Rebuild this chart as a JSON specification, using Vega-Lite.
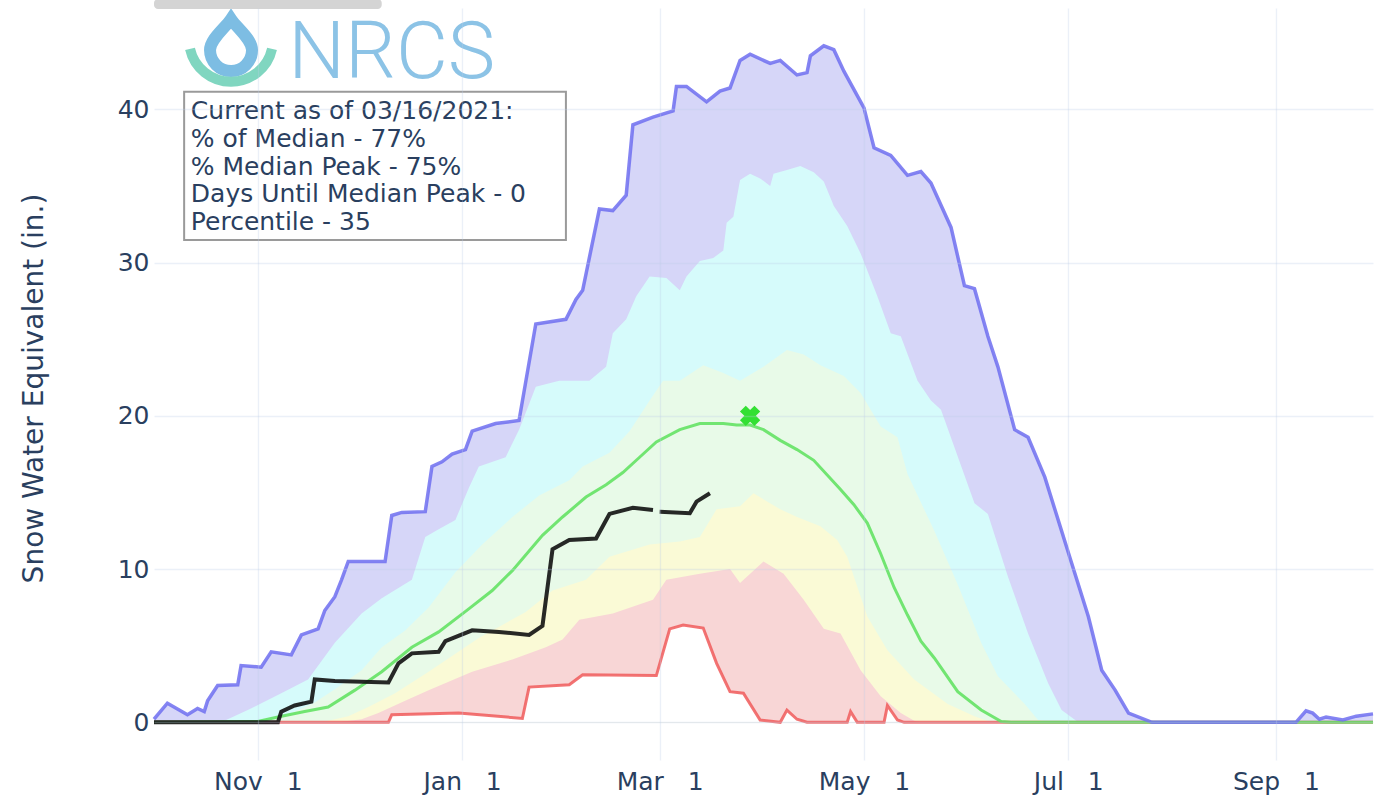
{
  "$schema": "https://vega.github.io/schema/vega-lite/v6.json",
  "width": 1219,
  "height": 752,
  "autosize": {"type": "none"},
  "padding": {"left": 154, "top": 8, "right": 1, "bottom": 40},
  "background": "white",
  "config": {
    "view": {"stroke": null},
    "axis": {
      "labelFont": "DejaVu Sans",
      "labelFontSize": 25,
      "labelColor": "#2a3f5f",
      "titleFont": "DejaVu Sans",
      "titleFontSize": 28,
      "titleFontWeight": "normal",
      "titleColor": "#2a3f5f",
      "gridColor": "#bccde8",
      "gridOpacity": 0.3,
      "gridWidth": 1.3,
      "domain": false,
      "ticks": false
    }
  },
  "datasets": {
    "max": [
      {"date": "2020-10-01", "v": 0.2}, {"date": "2020-10-05", "v": 1.25}, {"date": "2020-10-11", "v": 0.5},
      {"date": "2020-10-14", "v": 0.9}, {"date": "2020-10-16", "v": 0.7}, {"date": "2020-10-17", "v": 1.4},
      {"date": "2020-10-20", "v": 2.4}, {"date": "2020-10-26", "v": 2.45}, {"date": "2020-10-27", "v": 3.7},
      {"date": "2020-11-02", "v": 3.6}, {"date": "2020-11-05", "v": 4.6}, {"date": "2020-11-11", "v": 4.4},
      {"date": "2020-11-14", "v": 5.7}, {"date": "2020-11-19", "v": 6.1}, {"date": "2020-11-21", "v": 7.3},
      {"date": "2020-11-24", "v": 8.2}, {"date": "2020-11-26", "v": 9.3}, {"date": "2020-11-28", "v": 10.5},
      {"date": "2020-12-09", "v": 10.5}, {"date": "2020-12-11", "v": 13.5}, {"date": "2020-12-14", "v": 13.7},
      {"date": "2020-12-21", "v": 13.75}, {"date": "2020-12-23", "v": 16.7}, {"date": "2020-12-26", "v": 17.0},
      {"date": "2020-12-29", "v": 17.5}, {"date": "2021-01-02", "v": 17.8}, {"date": "2021-01-04", "v": 19.0},
      {"date": "2021-01-11", "v": 19.5}, {"date": "2021-01-18", "v": 19.7}, {"date": "2021-01-23", "v": 26.0},
      {"date": "2021-02-01", "v": 26.3}, {"date": "2021-02-04", "v": 27.6}, {"date": "2021-02-06", "v": 28.2},
      {"date": "2021-02-11", "v": 33.5}, {"date": "2021-02-15", "v": 33.4}, {"date": "2021-02-19", "v": 34.4},
      {"date": "2021-02-21", "v": 39.0}, {"date": "2021-02-27", "v": 39.5}, {"date": "2021-03-05", "v": 39.9},
      {"date": "2021-03-06", "v": 41.5}, {"date": "2021-03-09", "v": 41.5}, {"date": "2021-03-15", "v": 40.5},
      {"date": "2021-03-19", "v": 41.2}, {"date": "2021-03-22", "v": 41.4}, {"date": "2021-03-25", "v": 43.2},
      {"date": "2021-03-28", "v": 43.6}, {"date": "2021-04-03", "v": 43.0}, {"date": "2021-04-06", "v": 43.2},
      {"date": "2021-04-11", "v": 42.25}, {"date": "2021-04-14", "v": 42.4}, {"date": "2021-04-15", "v": 43.5},
      {"date": "2021-04-19", "v": 44.15}, {"date": "2021-04-22", "v": 43.9}, {"date": "2021-04-25", "v": 42.5},
      {"date": "2021-05-01", "v": 40.1}, {"date": "2021-05-04", "v": 37.5}, {"date": "2021-05-09", "v": 37.0},
      {"date": "2021-05-14", "v": 35.7}, {"date": "2021-05-18", "v": 35.95}, {"date": "2021-05-21", "v": 35.2},
      {"date": "2021-05-27", "v": 32.3}, {"date": "2021-05-31", "v": 28.5}, {"date": "2021-06-03", "v": 28.3},
      {"date": "2021-06-07", "v": 25.2}, {"date": "2021-06-10", "v": 23.2}, {"date": "2021-06-15", "v": 19.1},
      {"date": "2021-06-19", "v": 18.6}, {"date": "2021-06-24", "v": 16.0}, {"date": "2021-07-02", "v": 10.4},
      {"date": "2021-07-07", "v": 6.9}, {"date": "2021-07-11", "v": 3.4}, {"date": "2021-07-15", "v": 2.1},
      {"date": "2021-07-19", "v": 0.6}, {"date": "2021-07-26", "v": 0.0}, {"date": "2021-09-07", "v": 0.0},
      {"date": "2021-09-10", "v": 0.75}, {"date": "2021-09-12", "v": 0.6}, {"date": "2021-09-14", "v": 0.2},
      {"date": "2021-09-16", "v": 0.35}, {"date": "2021-09-21", "v": 0.15}, {"date": "2021-09-25", "v": 0.4},
      {"date": "2021-09-30", "v": 0.55}
    ],
    "p90": [
      {"date": "2020-10-01", "v": 0}, {"date": "2020-10-21", "v": 0}, {"date": "2020-10-24", "v": 0.3},
      {"date": "2020-10-29", "v": 0.8}, {"date": "2020-11-08", "v": 1.9}, {"date": "2020-11-16", "v": 2.8},
      {"date": "2020-11-24", "v": 5.2}, {"date": "2020-12-02", "v": 7.1}, {"date": "2020-12-08", "v": 8.1},
      {"date": "2020-12-17", "v": 9.3}, {"date": "2020-12-21", "v": 12.1}, {"date": "2020-12-25", "v": 12.6},
      {"date": "2020-12-30", "v": 13.2}, {"date": "2021-01-03", "v": 15.3}, {"date": "2021-01-06", "v": 16.7},
      {"date": "2021-01-14", "v": 17.3}, {"date": "2021-01-18", "v": 19.1}, {"date": "2021-01-20", "v": 20.2},
      {"date": "2021-01-23", "v": 21.9}, {"date": "2021-01-30", "v": 22.3}, {"date": "2021-02-08", "v": 22.3},
      {"date": "2021-02-13", "v": 23.2}, {"date": "2021-02-15", "v": 25.4}, {"date": "2021-02-19", "v": 26.3},
      {"date": "2021-02-22", "v": 27.8}, {"date": "2021-02-26", "v": 29.1}, {"date": "2021-03-03", "v": 29.0},
      {"date": "2021-03-07", "v": 28.2}, {"date": "2021-03-09", "v": 29.1}, {"date": "2021-03-13", "v": 30.1},
      {"date": "2021-03-17", "v": 30.3}, {"date": "2021-03-20", "v": 30.8}, {"date": "2021-03-21", "v": 32.6},
      {"date": "2021-03-23", "v": 33.0}, {"date": "2021-03-25", "v": 35.4}, {"date": "2021-03-28", "v": 35.8},
      {"date": "2021-03-31", "v": 35.5}, {"date": "2021-04-03", "v": 35.0}, {"date": "2021-04-04", "v": 35.8},
      {"date": "2021-04-08", "v": 36.05}, {"date": "2021-04-12", "v": 36.3}, {"date": "2021-04-16", "v": 35.9},
      {"date": "2021-04-19", "v": 35.3}, {"date": "2021-04-22", "v": 33.7}, {"date": "2021-04-26", "v": 32.4},
      {"date": "2021-04-30", "v": 30.6}, {"date": "2021-05-05", "v": 27.8}, {"date": "2021-05-09", "v": 25.4},
      {"date": "2021-05-12", "v": 25.2}, {"date": "2021-05-17", "v": 22.3}, {"date": "2021-05-21", "v": 21.0},
      {"date": "2021-05-24", "v": 20.4}, {"date": "2021-06-03", "v": 14.3}, {"date": "2021-06-07", "v": 13.6},
      {"date": "2021-06-13", "v": 9.5}, {"date": "2021-06-19", "v": 5.8}, {"date": "2021-06-25", "v": 2.55},
      {"date": "2021-06-29", "v": 0.8}, {"date": "2021-07-04", "v": 0}, {"date": "2021-09-30", "v": 0}
    ],
    "p70": [
      {"date": "2020-10-01", "v": 0}, {"date": "2020-11-03", "v": 0}, {"date": "2020-11-10", "v": 0.5},
      {"date": "2020-11-18", "v": 1.3}, {"date": "2020-11-25", "v": 2.3}, {"date": "2020-12-02", "v": 3.4},
      {"date": "2020-12-08", "v": 4.9}, {"date": "2020-12-15", "v": 6.0}, {"date": "2020-12-22", "v": 7.5},
      {"date": "2020-12-30", "v": 9.8}, {"date": "2021-01-07", "v": 11.6}, {"date": "2021-01-16", "v": 13.4},
      {"date": "2021-01-24", "v": 14.8}, {"date": "2021-02-02", "v": 15.8}, {"date": "2021-02-06", "v": 16.7},
      {"date": "2021-02-14", "v": 17.6}, {"date": "2021-02-20", "v": 19.0}, {"date": "2021-02-26", "v": 21.0},
      {"date": "2021-03-02", "v": 22.3}, {"date": "2021-03-07", "v": 22.3}, {"date": "2021-03-14", "v": 23.3},
      {"date": "2021-03-20", "v": 22.8}, {"date": "2021-03-25", "v": 22.3}, {"date": "2021-04-01", "v": 23.2},
      {"date": "2021-04-08", "v": 24.3}, {"date": "2021-04-13", "v": 24.0}, {"date": "2021-04-18", "v": 23.3},
      {"date": "2021-04-25", "v": 22.6}, {"date": "2021-04-30", "v": 21.5}, {"date": "2021-05-06", "v": 19.3},
      {"date": "2021-05-11", "v": 18.6}, {"date": "2021-05-14", "v": 16.2}, {"date": "2021-05-22", "v": 12.5},
      {"date": "2021-05-29", "v": 9.0}, {"date": "2021-06-05", "v": 5.2}, {"date": "2021-06-10", "v": 3.0},
      {"date": "2021-06-18", "v": 1.2}, {"date": "2021-06-22", "v": 0.15}, {"date": "2021-06-26", "v": 0},
      {"date": "2021-09-30", "v": 0}
    ],
    "p30": [
      {"date": "2020-10-01", "v": 0}, {"date": "2020-11-20", "v": 0}, {"date": "2020-11-28", "v": 0.4},
      {"date": "2020-12-04", "v": 1.0}, {"date": "2020-12-12", "v": 1.9}, {"date": "2020-12-22", "v": 3.3},
      {"date": "2021-01-06", "v": 5.5}, {"date": "2021-01-20", "v": 7.2}, {"date": "2021-01-28", "v": 8.6},
      {"date": "2021-02-07", "v": 9.3}, {"date": "2021-02-14", "v": 10.8}, {"date": "2021-02-26", "v": 11.6},
      {"date": "2021-03-07", "v": 11.8}, {"date": "2021-03-13", "v": 12.1}, {"date": "2021-03-18", "v": 13.9},
      {"date": "2021-03-25", "v": 14.1}, {"date": "2021-03-29", "v": 14.95}, {"date": "2021-04-06", "v": 13.9},
      {"date": "2021-04-11", "v": 13.4}, {"date": "2021-04-18", "v": 12.8}, {"date": "2021-04-23", "v": 11.9},
      {"date": "2021-04-26", "v": 10.8}, {"date": "2021-05-02", "v": 6.9}, {"date": "2021-05-08", "v": 4.7},
      {"date": "2021-05-16", "v": 2.8}, {"date": "2021-05-26", "v": 1.2}, {"date": "2021-06-03", "v": 0.4},
      {"date": "2021-06-08", "v": 0}, {"date": "2021-09-30", "v": 0}
    ],
    "p10": [
      {"date": "2020-10-01", "v": 0}, {"date": "2020-11-25", "v": 0}, {"date": "2020-12-02", "v": 0.2},
      {"date": "2020-12-07", "v": 0.6}, {"date": "2020-12-15", "v": 1.4}, {"date": "2020-12-22", "v": 2.1},
      {"date": "2021-01-04", "v": 3.3}, {"date": "2021-01-16", "v": 4.1}, {"date": "2021-01-26", "v": 4.9},
      {"date": "2021-01-31", "v": 5.4}, {"date": "2021-02-05", "v": 6.7}, {"date": "2021-02-15", "v": 7.1},
      {"date": "2021-02-27", "v": 8.0}, {"date": "2021-03-03", "v": 9.3}, {"date": "2021-03-13", "v": 9.7},
      {"date": "2021-03-22", "v": 10.0}, {"date": "2021-03-25", "v": 9.1}, {"date": "2021-04-01", "v": 10.5},
      {"date": "2021-04-07", "v": 9.7}, {"date": "2021-04-13", "v": 8.0}, {"date": "2021-04-19", "v": 6.1},
      {"date": "2021-04-24", "v": 5.8}, {"date": "2021-04-30", "v": 3.4}, {"date": "2021-05-06", "v": 1.7},
      {"date": "2021-05-12", "v": 0.6}, {"date": "2021-05-16", "v": 0.1}, {"date": "2021-05-18", "v": 0},
      {"date": "2021-09-30", "v": 0}
    ],
    "min": [
      {"date": "2020-10-01", "v": 0}, {"date": "2020-12-10", "v": 0}, {"date": "2020-12-11", "v": 0.5},
      {"date": "2020-12-31", "v": 0.6}, {"date": "2021-01-09", "v": 0.45}, {"date": "2021-01-19", "v": 0.25},
      {"date": "2021-01-21", "v": 2.3}, {"date": "2021-02-02", "v": 2.45}, {"date": "2021-02-06", "v": 3.1},
      {"date": "2021-02-28", "v": 3.05}, {"date": "2021-03-04", "v": 6.1}, {"date": "2021-03-08", "v": 6.35},
      {"date": "2021-03-14", "v": 6.15}, {"date": "2021-03-18", "v": 3.85}, {"date": "2021-03-22", "v": 2.0},
      {"date": "2021-03-26", "v": 1.9}, {"date": "2021-03-31", "v": 0.15}, {"date": "2021-04-06", "v": 0},
      {"date": "2021-04-08", "v": 0.8}, {"date": "2021-04-11", "v": 0.2}, {"date": "2021-04-14", "v": 0},
      {"date": "2021-04-26", "v": 0}, {"date": "2021-04-27", "v": 0.7}, {"date": "2021-04-29", "v": 0},
      {"date": "2021-05-07", "v": 0}, {"date": "2021-05-08", "v": 1.1}, {"date": "2021-05-11", "v": 0.15},
      {"date": "2021-05-13", "v": 0}, {"date": "2021-09-30", "v": 0}
    ],
    "median": [
      {"date": "2020-10-01", "v": 0}, {"date": "2020-11-01", "v": 0.05}, {"date": "2020-11-07", "v": 0.35},
      {"date": "2020-11-15", "v": 0.7}, {"date": "2020-11-22", "v": 1.0}, {"date": "2020-11-30", "v": 2.1},
      {"date": "2020-12-08", "v": 3.3}, {"date": "2020-12-17", "v": 4.9}, {"date": "2020-12-25", "v": 5.9},
      {"date": "2021-01-03", "v": 7.4}, {"date": "2021-01-10", "v": 8.6}, {"date": "2021-01-16", "v": 9.9},
      {"date": "2021-01-25", "v": 12.2}, {"date": "2021-01-31", "v": 13.4}, {"date": "2021-02-07", "v": 14.7},
      {"date": "2021-02-13", "v": 15.5}, {"date": "2021-02-18", "v": 16.3}, {"date": "2021-02-23", "v": 17.3},
      {"date": "2021-02-28", "v": 18.3}, {"date": "2021-03-07", "v": 19.1}, {"date": "2021-03-13", "v": 19.5},
      {"date": "2021-03-20", "v": 19.5}, {"date": "2021-03-24", "v": 19.4}, {"date": "2021-03-28", "v": 19.4},
      {"date": "2021-04-01", "v": 19.1}, {"date": "2021-04-06", "v": 18.4}, {"date": "2021-04-11", "v": 17.8},
      {"date": "2021-04-16", "v": 17.1}, {"date": "2021-04-24", "v": 15.2}, {"date": "2021-04-28", "v": 14.2},
      {"date": "2021-05-02", "v": 13.0}, {"date": "2021-05-06", "v": 11.0}, {"date": "2021-05-10", "v": 8.8},
      {"date": "2021-05-14", "v": 7.0}, {"date": "2021-05-18", "v": 5.3}, {"date": "2021-05-22", "v": 4.2},
      {"date": "2021-05-29", "v": 2.0}, {"date": "2021-06-05", "v": 0.8}, {"date": "2021-06-11", "v": 0.05},
      {"date": "2021-06-14", "v": 0}, {"date": "2021-09-30", "v": 0}
    ],
    "current": [
      {"date": "2020-10-01", "v": 0, "seg": 1}, {"date": "2020-11-07", "v": 0, "seg": 1}, {"date": "2020-11-08", "v": 0.7, "seg": 1},
      {"date": "2020-11-12", "v": 1.1, "seg": 1}, {"date": "2020-11-17", "v": 1.35, "seg": 1}, {"date": "2020-11-18", "v": 2.8, "seg": 1},
      {"date": "2020-11-24", "v": 2.7, "seg": 1}, {"date": "2020-12-10", "v": 2.6, "seg": 1}, {"date": "2020-12-13", "v": 3.85, "seg": 1},
      {"date": "2020-12-17", "v": 4.5, "seg": 1}, {"date": "2020-12-25", "v": 4.6, "seg": 1}, {"date": "2020-12-27", "v": 5.3, "seg": 1},
      {"date": "2021-01-04", "v": 6.0, "seg": 1}, {"date": "2021-01-12", "v": 5.9, "seg": 1}, {"date": "2021-01-21", "v": 5.7, "seg": 1},
      {"date": "2021-01-25", "v": 6.3, "seg": 1}, {"date": "2021-01-28", "v": 11.3, "seg": 1}, {"date": "2021-02-02", "v": 11.9, "seg": 1},
      {"date": "2021-02-10", "v": 12.0, "seg": 1}, {"date": "2021-02-14", "v": 13.6, "seg": 1}, {"date": "2021-02-21", "v": 14.0, "seg": 1},
      {"date": "2021-02-27", "v": 13.85, "seg": 1},
      {"date": "2021-03-01", "v": 13.75, "seg": 2}, {"date": "2021-03-10", "v": 13.65, "seg": 2}, {"date": "2021-03-12", "v": 14.4, "seg": 2},
      {"date": "2021-03-16", "v": 14.95, "seg": 2}
    ],
    "peak": [{"date": "2021-03-28", "v": 20.0}],
    "box": [{"date": "2020-10-10", "date2": "2021-02-01", "v": 41.15, "v2": 31.48}],
    "boxtext": [{"date": "2020-10-12", "v": 39.36, "label": "Current as of 03/16/2021:\n% of Median - 77%\n% Median Peak - 75%\nDays Until Median Peak - 0\nPercentile - 35"}],
    "logo": [{"date": "2020-12-11", "v": 42.06, "label": "NRCS"}],
    "drop": [{"date": "2020-10-24", "v": 44.2}],
    "topbar": [{"date": "2020-10-01", "date2": "2020-12-08", "v": 47.2, "v2": 46.55}]
  },
  "encoding": {
    "x": {
      "field": "date",
      "type": "temporal",
      "scale": {"domain": [{"year": 2020, "month": 10, "date": 1}, {"year": 2021, "month": 9, "date": 30}]},
      "axis": {
        "title": null,
        "values": [
          {"year": 2020, "month": 11, "date": 1}, {"year": 2021, "month": 1, "date": 1},
          {"year": 2021, "month": 3, "date": 1}, {"year": 2021, "month": 5, "date": 1},
          {"year": 2021, "month": 7, "date": 1}, {"year": 2021, "month": 9, "date": 1}
        ],
        "labelExpr": "timeFormat(datum.value, '%b') + '\u00a0\u00a0\u00a01'",
        "grid": true,
        "labelPadding": 9,
        "zindex": 1
      }
    },
    "y": {
      "field": "v",
      "type": "quantitative",
      "scale": {"domain": [-2.46, 46.62], "nice": false, "zero": false},
      "axis": {
        "title": "Snow Water Equivalent (in.)",
        "values": [0, 10, 20, 30, 40],
        "grid": true,
        "labelPadding": 5,
        "titleX": -120,
        "titleY": 380,
        "titleAlign": "center",
        "titleBaseline": "middle",
        "zindex": 1
      }
    }
  },
  "layer": [
    {"data": {"name": "max"}, "mark": {"type": "area", "color": "#d6d6f8", "opacity": 1}, "encoding": {"y2": {"datum": 0}}},
    {"data": {"name": "p90"}, "mark": {"type": "area", "color": "#d6fbfb", "opacity": 1}, "encoding": {"y2": {"datum": 0}}},
    {"data": {"name": "p70"}, "mark": {"type": "area", "color": "#e8fae8", "opacity": 1}, "encoding": {"y2": {"datum": 0}}},
    {"data": {"name": "p30"}, "mark": {"type": "area", "color": "#fafad6", "opacity": 1}, "encoding": {"y2": {"datum": 0}}},
    {"data": {"name": "p10"}, "mark": {"type": "area", "color": "#f8d6d6", "opacity": 1}, "encoding": {"y2": {"datum": 0}}},
    {"data": {"name": "min"}, "mark": {"type": "area", "color": "#ffffff", "opacity": 1}, "encoding": {"y2": {"datum": 0}}},
    {"data": {"name": "min"}, "mark": {"type": "line", "color": "#f05a5a", "strokeWidth": 3, "opacity": 0.85}, "encoding": {}},
    {"data": {"name": "median"}, "mark": {"type": "line", "color": "#5ce05c", "strokeWidth": 3, "opacity": 0.85}, "encoding": {}},
    {"data": {"name": "max"}, "mark": {"type": "line", "color": "#6e6ef0", "strokeWidth": 3.5, "opacity": 0.85}, "encoding": {}},
    {"data": {"name": "current"}, "mark": {"type": "line", "color": "#111111", "strokeWidth": 4, "opacity": 0.9}, "encoding": {"detail": {"field": "seg"}}},
    {"data": {"name": "peak"}, "mark": {"type": "point", "shape": "cross", "angle": 45, "filled": true, "color": "#33e033", "size": 420, "opacity": 1}},
    {"data": {"name": "box"}, "mark": {"type": "rect", "fill": "#ffffff", "stroke": "#9a9a9a", "strokeWidth": 2}, "encoding": {"x2": {"field": "date2"}, "y2": {"field": "v2"}}},
    {"data": {"name": "boxtext"}, "mark": {"type": "text", "align": "left", "baseline": "alphabetic", "lineBreak": "\n", "lineHeight": 27.7, "font": "DejaVu Sans", "fontSize": 25, "color": "#2a3f5f"}, "encoding": {"text": {"field": "label"}}},
    {"data": {"name": "logo"}, "mark": {"type": "text", "align": "center", "baseline": "alphabetic", "font": "Roboto", "fontWeight": 300, "fontSize": 80, "color": "#8cc3e6"}, "encoding": {"text": {"field": "label"}}},
    {"data": {"name": "drop"}, "mark": {"type": "point", "shape": "M0,-0.52 C0.12,-0.34 0.42,-0.12 0.42,0.1 A0.42,0.42 0 1 1 -0.42,0.1 C-0.42,-0.12 -0.12,-0.34 0,-0.52 Z", "filled": false, "color": "#7dbde3", "strokeWidth": 12, "size": 10000, "opacity": 1}},
    {"data": {"name": "drop"}, "mark": {"type": "point", "shape": "M0.82,0.075 A0.84,0.84 0 0 1 -0.82,0.075", "filled": false, "color": "#80d6c0", "strokeWidth": 10, "size": 10000, "opacity": 1}},
    {"data": {"name": "topbar"}, "mark": {"type": "rect", "color": "#d4d4d4", "cornerRadius": 4}, "encoding": {"x2": {"field": "date2"}, "y2": {"field": "v2"}}}
  ]
}
